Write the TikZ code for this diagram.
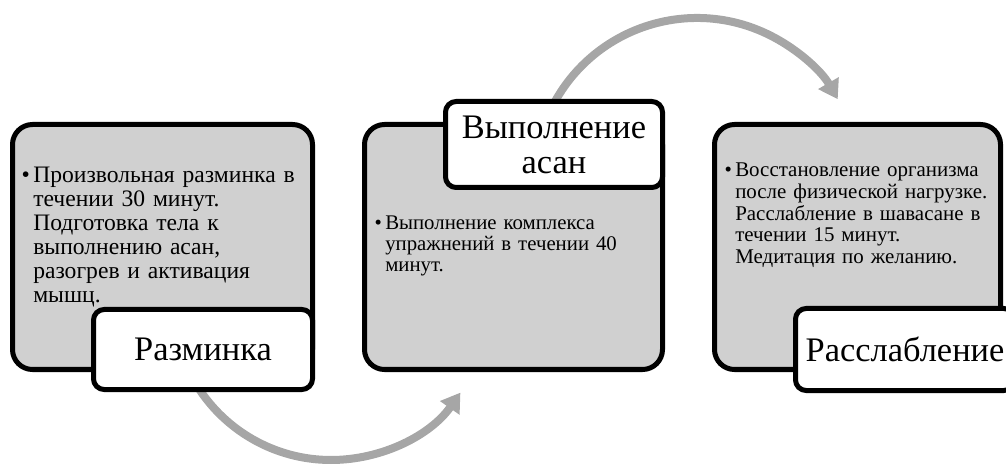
\documentclass[tikz,border=0pt]{standalone}
\usepackage{fontspec}
\setmainfont{Liberation Serif}
\usetikzlibrary{arrows.meta}
\definecolor{boxgray}{RGB}{208,208,208}
\definecolor{arrowgray}{RGB}{166,166,166}
\tikzset{
  panel/.style={draw=black, line width=3.75pt, fill=boxgray, rounded corners=15pt, inner sep=0pt},
  tag/.style={draw=black, line width=3.75pt, fill=white, rounded corners=8pt, inner sep=0pt, align=center,
    font=\fontsize{25.8}{26.3}\selectfont},
  bodytext/.style={inner sep=0pt, anchor=base west, align=left},
  flow/.style={draw=arrowgray, line width=6pt, -{Triangle[length=14pt,width=17pt]}},
}
\newcommand{\bul}{\noindent\llap{\textbullet\hspace{2.5pt}}}
\begin{document}
\begin{tikzpicture}[x=0.75pt, y=-0.75pt]
\useasboundingbox (0,0) rectangle (1006,466);
% arrows (behind boxes)
\path (331,302) ++(150:158) coordinate (b1);
\path (697,180.5) ++(-155:162.5) coordinate (b2);
\draw[flow] (b1) arc[start angle=150, end angle=35, radius=158];
\draw[flow] (b2) arc[start angle=-155, end angle=-30, radius=162.5];
% panels
\node[panel, minimum width=225pt, minimum height=183.75pt] (p1) at (162.5,247) {};
\node[panel, minimum width=223.5pt, minimum height=183.75pt] (p2) at (513.5,247) {};
\node[panel, minimum width=214.5pt, minimum height=183.75pt] (p3) at (857.5,247) {};
% body texts
\node[bodytext, text width=220pt, font=\fontsize{17.7}{18}\selectfont] (t1) at (33,182.5)
  {\bul Произвольная разминка в\\ течении 30 минут.\\ Подготовка тела к\\ выполнению асан,\\ разогрев и активация\\ мышц.};
\node[bodytext, text width=220pt, font=\fontsize{15.6}{15.6}\selectfont] (t2) at (385,230)
  {\bul Выполнение комплекса\\ упражнений в течении 40\\ минут.};
\node[bodytext, text width=220pt, font=\fontsize{15.7}{16.3}\selectfont] (t3) at (735,176.7)
  {\bul Восстановление организма\\ после физической нагрузке.\\ Расслабление в шавасане в\\ течении 15 минут.\\ Медитация по желанию.};
% tags
\node[tag, minimum width=164.25pt, minimum height=60pt] (l1) at (203,349.5) {Разминка};
\node[tag, minimum width=162.75pt, minimum height=64.5pt] (l2) at (554,144.5) {Выполнение\\асан};
\node[tag, minimum width=164.25pt, minimum height=61.5pt] (l3) at (905,349.5) {Расслабление};
\end{tikzpicture}
\end{document}
